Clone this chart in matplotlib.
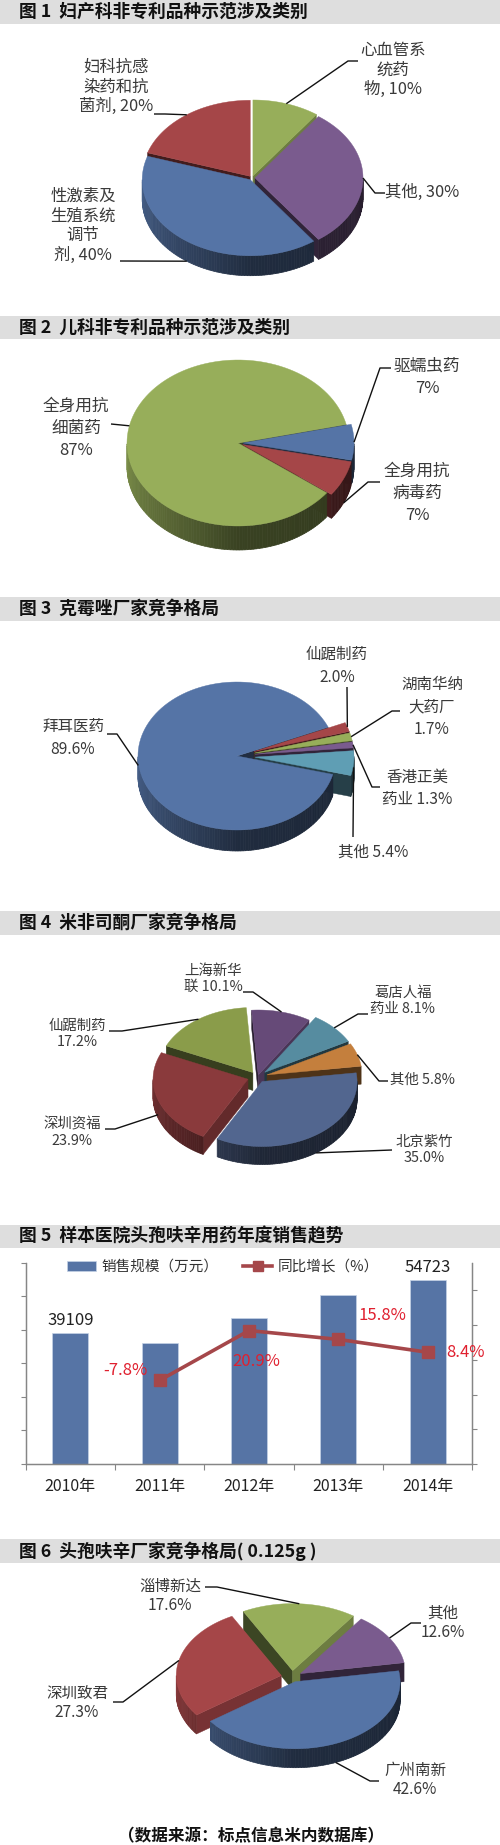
import numpy as np
import matplotlib

matplotlib.use("Agg")

import matplotlib.pyplot as plt

plt.rcParams["font.family"] = ["Noto Sans CJK SC", "DejaVu Sans"]

W, H = 500, 1845

BAND_COLOR = "#dedede"
TEXT_COLOR = "#3a3a3a"
LEADER_COLOR = "#111111"
AXIS_COLOR = "#868686"
BAR_COLOR = "#5674a5"
LINE_COLOR = "#a5474a"
RED_TEXT = "#e0202f"

BLUE, RED, GREEN = "#5574a6", "#a54648", "#97ae5a"
PURPLE, TEAL = "#7a5b8e", "#5f9eb4"

# band top, band bottom, title
TITLES = ["图 1  妇产科非专利品种示范涉及类别", "图 2  儿科非专利品种示范涉及类别",
          "图 3  克霉唑厂家竞争格局", "图 4  米非司酮厂家竞争格局",
          "图 5  样本医院头孢呋辛用药年度销售趋势", "图 6  头孢呋辛厂家竞争格局( 0.125g )"]
BANDS = [(0, 24), (316, 339), (597, 621), (911, 935), (1225, 1248), (1539, 1563)]
FOOTER = "（数据来源：标点信息米内数据库）"

# 图1
FIG1_VALUES = [10, 30, 40, 20]
FIG1_LABELS = ["心血管系\n统药\n物, 10%", "其他, 30%", "性激素及\n生殖系统\n调节\n剂, 40%", "妇科抗感\n染药和抗\n菌剂, 20%"]
FIG1_COLORS = [GREEN, PURPLE, BLUE, RED]

# 图2
FIG2_VALUES = [7, 7, 87]
FIG2_LABELS = ["驱蠕虫药\n7%", "全身用抗\n病毒药\n7%", "全身用抗\n细菌药\n87%"]
FIG2_COLORS = [BLUE, RED, GREEN]

# 图3
FIG3_VALUES = [2.0, 1.7, 1.3, 5.4, 89.6]
FIG3_LABELS = ["仙踞制药\n2.0%", "湖南华纳\n大药厂\n1.7%", "香港正美\n药业 1.3%", "其他 5.4%", "拜耳医药\n89.6%"]
FIG3_COLORS = [RED, GREEN, PURPLE, TEAL, BLUE]

# 图4
FIG4_VALUES = [10.1, 8.1, 5.8, 35.0, 23.9, 17.2]
FIG4_LABELS = ["上海新华\n联 10.1%", "葛店人福\n药业 8.1%", "其他 5.8%", "北京紫竹\n35.0%", "深圳资福\n23.9%", "仙踞制药\n17.2%"]
FIG4_COLORS = ["#664a78", "#568ca0", "#c47f3d", "#52668f", "#8a3a3c", "#8a9c4a"]

# 图5
YEARS = ["2010年", "2011年", "2012年", "2013年", "2014年"]
SALES = [39109, 36060, 43600, 50480, 54723]
GROWTH = [-7.8, 20.9, 15.8, 8.4]
GROWTH_LABELS = ["-7.8%", "20.9%", "15.8%", "8.4%"]

# 图6
FIG6_VALUES = [17.6, 12.6, 42.6, 27.3]
FIG6_LABELS = ["淄博新达\n17.6%", "其他\n12.6%", "广州南新\n42.6%", "深圳致君\n27.3%"]
FIG6_COLORS = [GREEN, PURPLE, BLUE, RED]


def shade(color, factor):
    rgb = np.array(matplotlib.colors.to_rgb(color))
    return tuple(rgb * factor)


def wall_factor(theta):
    return np.interp(theta % 360, [90, 180, 200, 270], [0.32, 0.38, 0.5, 0.82])


def draw_pie(ax, values, colors, cx, cy, rx, ry, depth, start, explode):
    """3D-пирог: углы считаются от 12 часов по часовой, вернёт точки для выносок."""
    shares = np.array(values, dtype=float)
    sweep = shares / shares.sum() * 360
    starts = start + np.concatenate([[0], np.cumsum(sweep)[:-1]])
    ends = starts + sweep
    mids = (starts + ends) / 2

    def point(theta, ox, oy):
        t = np.radians(theta)
        return ox + rx * np.sin(t), oy - ry * np.cos(t)

    def origin(i):
        t = np.radians(mids[i])
        return cx + explode[i] * np.sin(t), cy - explode[i] * np.cos(t) * ry / rx

    def radial_walls(i):
        ox, oy = origin(i)
        for phi, normal in ((starts[i], starts[i] - 90), (ends[i], ends[i] + 90)):
            if np.cos(np.radians(normal)) < 0:
                x, y = point(phi, ox, oy)
                f = 0.72 if normal % 360 < 150 else 0.4
                ax.fill([ox, x, x, ox], [oy, y, y + depth, oy + depth],
                        color=shade(colors[i], f), lw=0.3)

    rim = []
    for i in range(len(shares)):
        ox, oy = origin(i)
        x, y = point(mids[i], ox, oy)
        c = np.cos(np.radians(mids[i]))
        rim.append((x, y + depth * min(1, 2.5 * max(0, -c))))

    # сзади вперёд, самый большой сектор перекрывает стенки соседей
    biggest = int(np.argmax(shares))
    order = sorted(range(len(shares)), key=lambda k: (k == biggest, -np.cos(np.radians(mids[k]))))
    radial_walls(biggest)
    for i in order:
        ox, oy = origin(i)
        color = colors[i]
        if i != biggest:
            radial_walls(i)

        # внешняя стенка
        edges = np.arange(starts[i], ends[i] + 1.5, 1.5)
        edges[-1] = ends[i]
        for a, b in zip(edges[:-1], edges[1:]):
            m = (a + b) / 2
            if np.cos(np.radians(m)) >= 0:
                continue
            xa, ya = point(a, ox, oy)
            xb, yb = point(b, ox, oy)
            ax.fill([xa, xb, xb, xa], [ya, yb, yb + depth, ya + depth],
                    color=shade(color, wall_factor(m)), lw=0.5)

        # верх
        th = np.linspace(starts[i], ends[i], 120)
        xs, ys = point(th, ox, oy)
        ax.fill(np.r_[ox, xs], np.r_[oy, ys], color=color, lw=0.3)
    return rim


def draw_labels(ax, labels, layout, rim, size, spacing):
    for label, (x, y, guide), end in zip(labels, layout, rim):
        ax.text(x, y, label, ha="center", va="center", fontsize=size,
                color=TEXT_COLOR, linespacing=spacing)
        if guide:
            px = [g[0] for g in guide] + [end[0]]
            py = [g[1] for g in guide] + [end[1]]
            ax.plot(px, py, color=LEADER_COLOR, lw=1.0, solid_capstyle="butt")


fig = plt.figure(figsize=(W / 100, H / 100), dpi=100, facecolor="white")
ax = fig.add_axes([0, 0, 1, 1])
ax.set_xlim(0, W)
ax.set_ylim(H, 0)
ax.axis("off")

for (top, bottom), title in zip(BANDS, TITLES):
    ax.fill_between([0, W], top, bottom, color=BAND_COLOR, lw=0)
    ax.text(19, (top + bottom) / 2, title, ha="left", va="center",
            fontsize=12.8, fontweight="bold", color="#111111")

rim = draw_pie(ax, FIG1_VALUES, FIG1_COLORS, 252, 178, 108, 76, 20, 0, [3, 3, 3, 3])
draw_labels(ax, FIG1_LABELS, [
    (393, 70, [(358, 61), (348, 61)]),
    (422, 192, [(385, 193), (375, 193)]),
    (83, 226, [(120, 261)]),
    (116, 87, [(154, 114), (165, 114)]),
], rim, 11.8, 1.2)

rim = draw_pie(ax, FIG2_VALUES, FIG2_COLORS, 238, 443, 111, 83, 24, 77, [5, 5, 0])
draw_labels(ax, FIG2_LABELS, [
    (427, 377, [(391, 368), (380, 368)]),
    (417, 493, [(380, 482), (368, 482)]),
    (76, 428, [(111, 424)]),
], rim, 12, 1.39)

rim = draw_pie(ax, FIG3_VALUES, FIG3_COLORS, 237, 756, 99, 74, 21, 67, [18, 18, 18, 18, 0])
draw_labels(ax, FIG3_LABELS, [
    (337, 666, [(347, 687)]),
    (432, 707, [(400, 711), (392, 711)]),
    (417, 788, [(380, 787), (372, 787)]),
    (373, 852, [(353, 837)]),
    (73, 738, [(107, 734), (117, 734)]),
], rim, 11.2, 1.4)

rim = draw_pie(ax, FIG4_VALUES, FIG4_COLORS, 257.5, 1077, 95, 65, 18, -4, [3, 10, 10, 8, 10, 8])
draw_labels(ax, FIG4_LABELS, [
    (213, 979, [(243, 992), (253, 992)]),
    (403, 1001, [(368, 1014), (358, 1014)]),
    (422, 1080, [(388, 1081), (379, 1081)]),
    (424, 1150, [(392, 1150)]),
    (72, 1133, [(105, 1129), (115, 1129)]),
    (77, 1034, [(109, 1031), (122, 1031)]),
], rim, 10.4, 1.25)

rim = draw_pie(ax, FIG6_VALUES, FIG6_COLORS, 292, 1677, 105, 67, 19, -28, [10, 10, 8, 11])
draw_labels(ax, FIG6_LABELS, [
    (170, 1596, [(205, 1587), (217, 1587)]),
    (443, 1623, [(421, 1623), (411, 1623)]),
    (415, 1780, [(379, 1781), (370, 1781)]),
    (77, 1703, [(113, 1702), (123, 1702)]),
], rim, 11.2, 1.18)

ax.text(251, 1836.5, FOOTER, ha="center", va="center", fontsize=12,
        fontweight="bold", color="#111111")

# 图5: столбцы и линия
left, right, top, bottom = 25.7, 472.3, 1262.7, 1464
bar_ax = fig.add_axes([left / W, 1 - bottom / H, (right - left) / W, (bottom - top) / H])
bar_ax.patch.set_alpha(0)
xs = np.arange(len(YEARS))
bars = bar_ax.bar(xs, SALES, width=0.4, color=BAR_COLOR, edgecolor="#c5d2e6", linewidth=0.5)
bar_ax.set_xlim(-0.5, 4.5)
bar_ax.set_ylim(0, 60000)
bar_ax.set_yticks(np.arange(0, 60001, 10000))
bar_ax.set_xticks(np.arange(-0.5, 5, 1))
bar_ax.set_xticklabels([])
bar_ax.tick_params(axis="y", labelleft=False, length=3.6, width=0.8, color=AXIS_COLOR)
bar_ax.tick_params(axis="x", length=4.6, width=0.8, color=AXIS_COLOR)
for name, spine in bar_ax.spines.items():
    spine.set_color(AXIS_COLOR)
    spine.set_linewidth(0.9)
bar_ax.spines["top"].set_visible(False)
for x, year in zip(xs, YEARS):
    bar_ax.annotate(year, xy=(x, 0), xytext=(0, -16), textcoords="offset points",
                    ha="center", va="center", fontsize=11.5, color="#222222")
for i in (0, 4):
    bar_ax.annotate(str(SALES[i]), xy=(xs[i], SALES[i]), xytext=(0, 9),
                    textcoords="offset points", ha="center", va="center",
                    fontsize=12, color="#222222")

line_ax = bar_ax.twinx()
line_ax.patch.set_alpha(0)
line, = line_ax.plot(xs[1:], GROWTH, color=LINE_COLOR, lw=2.6, marker="s", ms=8.5)
line_ax.set_ylim(-56, 60)
line_ax.set_yticks(np.arange(-56, 50, 20))
line_ax.tick_params(axis="y", labelright=False, length=3.6, width=0.8, color=AXIS_COLOR)
for name, spine in line_ax.spines.items():
    spine.set_color(AXIS_COLOR)
    spine.set_linewidth(0.9)
line_ax.spines["top"].set_visible(False)
offsets = [(-25, 7), (5, -22), (32, 17), (27, 0)]
for x, g, text, off in zip(xs[1:], GROWTH, GROWTH_LABELS, offsets):
    line_ax.annotate(text, xy=(x, g), xytext=off, textcoords="offset points",
                     ha="center", va="center", fontsize=12, color=RED_TEXT)

leg = line_ax.legend(
    [bars, line], ["销售规模（万元）", "同比增长（%）"], ncol=2, frameon=False,
    loc="center left", bbox_to_anchor=(67, 1267), bbox_transform=ax.transData,
    borderpad=0, borderaxespad=0, fontsize=10.5, handlelength=2.0, handletextpad=0.35,
    columnspacing=1.7, labelcolor="#333333", markerscale=0.8,
)

fig.savefig("out.png", dpi=100, facecolor="white")
plt.close(fig)
